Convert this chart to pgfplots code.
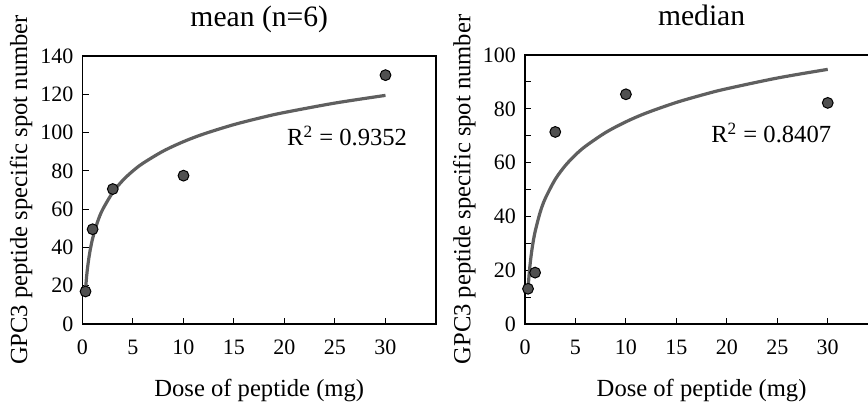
\documentclass[border=0pt]{standalone}
\usepackage{fontspec}
\setmainfont{Liberation Serif}
\usepackage{pgfplots}
\pgfplotsset{compat=1.18}
\definecolor{markfill}{RGB}{80,80,80}
\definecolor{curvecol}{RGB}{95,95,95}

\newcommand{\tickfont}{\fontsize{11}{13}\selectfont\rmfamily}
\newcommand{\labfont}{\fontsize{12.3}{14}\selectfont\rmfamily}

\pgfplotsset{
  panel/.style={
    scale only axis,
    anchor=south west,
    xmin=0, xmax=35, ymin=0,
    xtick={0,5,10,15,20,25,30},
    xticklabels={0,5,10,15,20,25,30},
    tick align=inside,
    xtick pos=left,
    ytick pos=left,
    major tick length=3pt,
    minor tick length=3pt,
    tick style={black, line width=0.5pt},
    axis line style={black, line width=0.6pt},
    x tick label style={font=\tickfont, yshift=-4.5pt},
    y tick label style={font=\tickfont, xshift=-1pt},
    xlabel={Dose of peptide (mg)},
    ylabel={GPC3 peptide specific spot number},
    xlabel style={at={(axis description cs:0.5,-0.2687)}, anchor=base, font=\labfont},
    title style={font=\fontsize{14.8}{17}\selectfont, anchor=base, at={(axis description cs:0.5,1.066)}},
    clip=false,
  },
  pts/.style={only marks, mark=*, mark size=2.7pt,
    mark options={fill=markfill, draw=black, line width=0.5pt}},
  fit/.style={no marks, smooth, color=curvecol, line width=1.6pt},
}

\begin{document}
\begin{tikzpicture}[x=1pt,y=1pt]
\useasboundingbox (0,0) rectangle (434,201.5);

% ---------- left panel: mean ----------
\begin{axis}[panel,
  at={(41.25pt,39.5pt)},
  width=176.75pt, height=134pt,
  ymax=140,
  ytick={0,20,40,60,80,100,120,140},
  yticklabels={0,20,40,60,80,100,120,140},
  title={mean (n=6)},
  ylabel style={at={(axis description cs:-0.141,0.5)}, anchor=south, inner sep=0pt, font=\labfont},
]
\addplot[fit] coordinates {
  (0.3,18.1) (0.4,24.45) (0.5,29.35) (0.6,33.36) (0.75,38.27) (1,44.6)
  (1.5,53.52) (2,59.85) (3,68.77) (4,75.1) (5,80.01) (6,84.02) (8,90.35)
  (10,95.26) (12,99.27) (15,104.18) (18,108.19) (20,110.51) (25,115.42) (30,119.43)
};
\addplot[pts] coordinates {
  (0.3,17) (1,49.5) (3,70.5) (10,77.5) (30,130)
};
\node[anchor=base, font=\labfont] at (axis cs:26.2,93) {R\textsuperscript{2} = 0.9352};
\end{axis}

% ---------- right panel: median (right edge runs past the picture) ----------
\begin{axis}[panel,
  at={(262.5pt,39.5pt)},
  width=176.6pt, height=134.5pt,
  ymax=100,
  ytick={0,20,40,60,80,100},
  yticklabels={0,20,40,60,80,100},
  minor ytick={10,30,50,70,90},
  title={median},
  ylabel style={at={(axis description cs:-0.139,0.5)}, anchor=south, inner sep=0pt, font=\labfont},
]
\addplot[fit] coordinates {
  (0.3,12.93) (0.4,18.04) (0.5,22.0) (0.6,25.23) (0.75,29.19) (1,34.3)
  (1.5,41.5) (2,46.6) (3,53.8) (4,58.91) (5,62.87) (6,66.1) (8,71.21)
  (10,75.17) (12,78.41) (15,82.37) (18,85.6) (20,87.47) (25,91.44) (30,94.67)
};
\addplot[pts] coordinates {
  (0.3,13.1) (1,19.1) (3,71.4) (10,85.4) (30,82.2)
};
\node[anchor=base, font=\labfont] at (axis cs:24.4,67.3) {R\textsuperscript{2} = 0.8407};
\end{axis}
\end{tikzpicture}
\end{document}
